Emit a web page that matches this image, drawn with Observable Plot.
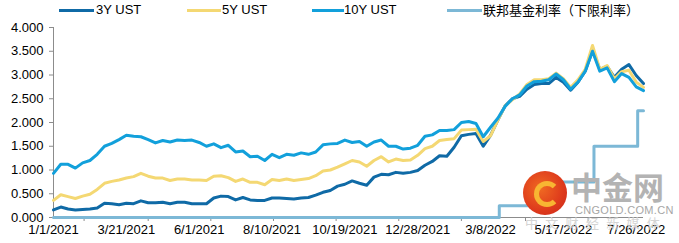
<!DOCTYPE html>
<html>
<head>
<meta charset="utf-8">
<script src="https://cdn.jsdelivr.net/npm/d3@7"></script>
<script src="https://cdn.jsdelivr.net/npm/@observablehq/plot@0.6"></script>
<style>
  html, body { margin: 0; padding: 0; background: #fff; overflow: hidden; }
  #wrap { position: relative; width: 679px; height: 243px; font-family: "Liberation Sans", Arial, sans-serif; }
  #wrap svg { position: absolute; left: 0; top: 0; }
  .lg-line { position: absolute; height: 3px; top: 9px; }
  .lg-text { position: absolute; top: 1px; font-size: 13px; line-height: 18px; color: #000; white-space: nowrap; }
  .wm { position: absolute; white-space: nowrap; }
</style>
</head>
<body>
<div id="wrap"></div>
<script>
// ---- data (trading-day index, one reading per week) ----
const labelIdx = [0, 50, 100, 150, 200, 250, 300, 350, 400];
const labels = ["1/1/2021", "3/21/2021", "6/1/2021", "8/10/2021", "10/19/2021", "12/28/2021", "3/8/2022", "5/17/2022", "7/26/2022"];
const tickMarks = [21, 65, 108, 151, 194, 237, 280, 324, 367];
const yTicks = [0, 0.5, 1, 1.5, 2, 2.5, 3, 3.5, 4];

const ust3 = [0.16,0.22,0.18,0.16,0.17,0.18,0.20,0.30,0.29,0.27,
  0.30,0.29,0.35,0.31,0.31,0.32,0.29,0.32,0.32,0.29,
  0.29,0.29,0.41,0.45,0.44,0.37,0.42,0.37,0.36,0.36,
  0.41,0.41,0.40,0.39,0.41,0.42,0.47,0.53,0.57,0.66,
  0.70,0.77,0.72,0.68,0.85,0.91,0.90,0.95,0.93,0.95,
  0.99,1.10,1.18,1.30,1.29,1.48,1.72,1.75,1.77,1.50,
  1.73,2.05,2.35,2.50,2.55,2.70,2.80,2.82,2.82,2.95,
  2.85,2.68,2.85,3.08,3.52,3.12,3.18,2.95,3.12,3.22,
  2.99,2.82];
const ust5 = [0.36,0.48,0.44,0.40,0.45,0.49,0.59,0.72,0.76,0.79,
  0.83,0.86,0.93,0.87,0.83,0.83,0.78,0.81,0.81,0.79,
  0.79,0.78,0.87,0.88,0.84,0.76,0.81,0.74,0.74,0.69,
  0.80,0.78,0.81,0.78,0.80,0.82,0.88,0.98,1.00,1.06,
  1.13,1.20,1.17,1.08,1.20,1.28,1.17,1.23,1.20,1.21,
  1.31,1.45,1.50,1.62,1.64,1.66,1.84,1.85,1.86,1.60,
  1.72,2.05,2.35,2.48,2.60,2.80,2.90,2.90,2.92,3.04,
  2.92,2.74,2.90,3.12,3.62,3.12,3.20,2.92,3.07,3.10,
  2.85,2.74];
const ust10 = [0.93,1.12,1.12,1.04,1.15,1.20,1.33,1.50,1.56,1.64,
  1.73,1.71,1.70,1.64,1.57,1.62,1.59,1.63,1.62,1.63,
  1.58,1.50,1.55,1.47,1.52,1.38,1.40,1.28,1.29,1.20,
  1.33,1.26,1.33,1.31,1.36,1.33,1.38,1.53,1.55,1.56,
  1.63,1.58,1.60,1.50,1.59,1.63,1.50,1.50,1.44,1.46,
  1.52,1.71,1.74,1.83,1.83,1.85,2.00,2.02,1.98,1.70,
  1.90,2.09,2.34,2.50,2.58,2.77,2.86,2.87,2.90,3.02,
  2.90,2.70,2.85,3.08,3.50,3.08,3.15,2.86,3.03,2.95,
  2.75,2.67];
const fedIdx = [0, 306, 341, 371, 401, 405];
const fedRate = [0, 0.25, 0.75, 1.5, 2.25, 2.25];

const colors = {ust3: "#0f6aa6", ust5: "#f4d873", ust10: "#12a0db", fed: "#7cb8d6"};

// ---- build tables ----
const idx = d3.range(0, ust10.length * 5, 5);
const toRows = vals => vals.map((v, i) => ({x: idx[i], y: v}));
const fedRows = fedIdx.map((x, i) => ({x, y: fedRate[i]}));
const labelMap = new Map(labelIdx.map((d, i) => [d, labels[i]]));

const chart = Plot.plot({
  width: 679, height: 243,
  marginLeft: 53, marginRight: 36, marginTop: 27, marginBottom: 26,
  style: {fontFamily: "'Liberation Sans', Arial, sans-serif", fontSize: "13px", color: "#000", background: "transparent"},
  x: {domain: [0, 405], axis: null},
  y: {domain: [0, 4], axis: null},
  marks: [
    Plot.ruleX([0], {stroke: "#8c8c8c", strokeWidth: 1}),
    Plot.axisY({ticks: yTicks, tickFormat: d3.format(".3f"), tickSize: 4, tickPadding: 6, stroke: "#8c8c8c", fill: "#000", label: null}),
    Plot.ruleY([0], {stroke: "#8c8c8c", strokeWidth: 1}),
    Plot.axisX({ticks: tickMarks, tickSize: 4, tickFormat: () => "", stroke: "#8c8c8c", label: null}),
    Plot.axisX({ticks: labelIdx, tickFormat: d => labelMap.get(d), tickSize: 0, tickPadding: 7, fill: "#000", label: null}),
    Plot.line(toRows(ust3), {x: "x", y: "y", stroke: colors.ust3, strokeWidth: 3}),
    Plot.line(toRows(ust5), {x: "x", y: "y", stroke: colors.ust5, strokeWidth: 3}),
    Plot.line(toRows(ust10), {x: "x", y: "y", stroke: colors.ust10, strokeWidth: 3}),
    Plot.line(fedRows, {x: "x", y: "y", stroke: colors.fed, strokeWidth: 3, curve: "step-after"})
  ]
});

const wrap = document.getElementById("wrap");
wrap.appendChild(chart);

// ---- legend ----
const legend = [
  {name: "3Y UST", color: colors.ust3, lx: 59, lw: 35, tx: 96},
  {name: "5Y UST", color: colors.ust5, lx: 187, lw: 34, tx: 222},
  {name: "10Y UST", color: colors.ust10, lx: 312, lw: 32, tx: 344},
  {name: "联邦基金利率（下限利率）", color: colors.fed, lx: 447, lw: 35, tx: 483}
];
for (const l of legend) {
  const ln = document.createElement("div");
  ln.className = "lg-line";
  ln.style.left = l.lx + "px"; ln.style.width = l.lw + "px"; ln.style.background = l.color;
  wrap.appendChild(ln);
  const t = document.createElement("div");
  t.className = "lg-text";
  t.style.left = l.tx + "px";
  if (/[\u4e00-\u9fff]/.test(l.name)) t.style.fontFamily = "'Noto Sans CJK SC', sans-serif";
  t.textContent = l.name;
  wrap.appendChild(t);
}

// ---- watermark ----
const wm = [
  {text: "中金网", left: 571, top: 168, size: 31, color: "#b3b3b3", weight: 700, family: "'Noto Sans CJK SC', sans-serif", ls: 0},
  {text: "CNGOLD.COM.CN", left: 575, top: 204, size: 11, color: "#a6a6a6", weight: 400, family: "'Liberation Sans', Arial, sans-serif", ls: 0.3},
  {text: "中文财经新媒体", left: 525, top: 216, size: 13, color: "#d4d4d4", weight: 400, family: "'Noto Sans CJK SC', sans-serif", ls: 7.3}
];
const logo = document.createElement("div");
logo.className = "wm";
Object.assign(logo.style, {left: "523px", top: "171px", width: "44px", height: "44px", borderRadius: "50%",
  background: "radial-gradient(circle at 40% 40%, #f06a22 0%, #de3a1c 60%, #c8261a 100%)"});
const swirl = document.createElement("div");
Object.assign(swirl.style, {position: "absolute", left: "11px", top: "10px", width: "16px", height: "16px", borderRadius: "50%",
  border: "5px solid #f8b632", borderRightColor: "transparent"});
logo.appendChild(swirl);
wrap.appendChild(logo);
for (const w of wm) {
  const d = document.createElement("div");
  d.className = "wm";
  Object.assign(d.style, {left: w.left + "px", top: w.top + "px", fontSize: w.size + "px", color: w.color,
    fontWeight: w.weight, fontFamily: w.family, letterSpacing: w.ls + "px", lineHeight: "1.15"});
  d.textContent = w.text;
  wrap.appendChild(d);
}
</script>
</body>
</html>
